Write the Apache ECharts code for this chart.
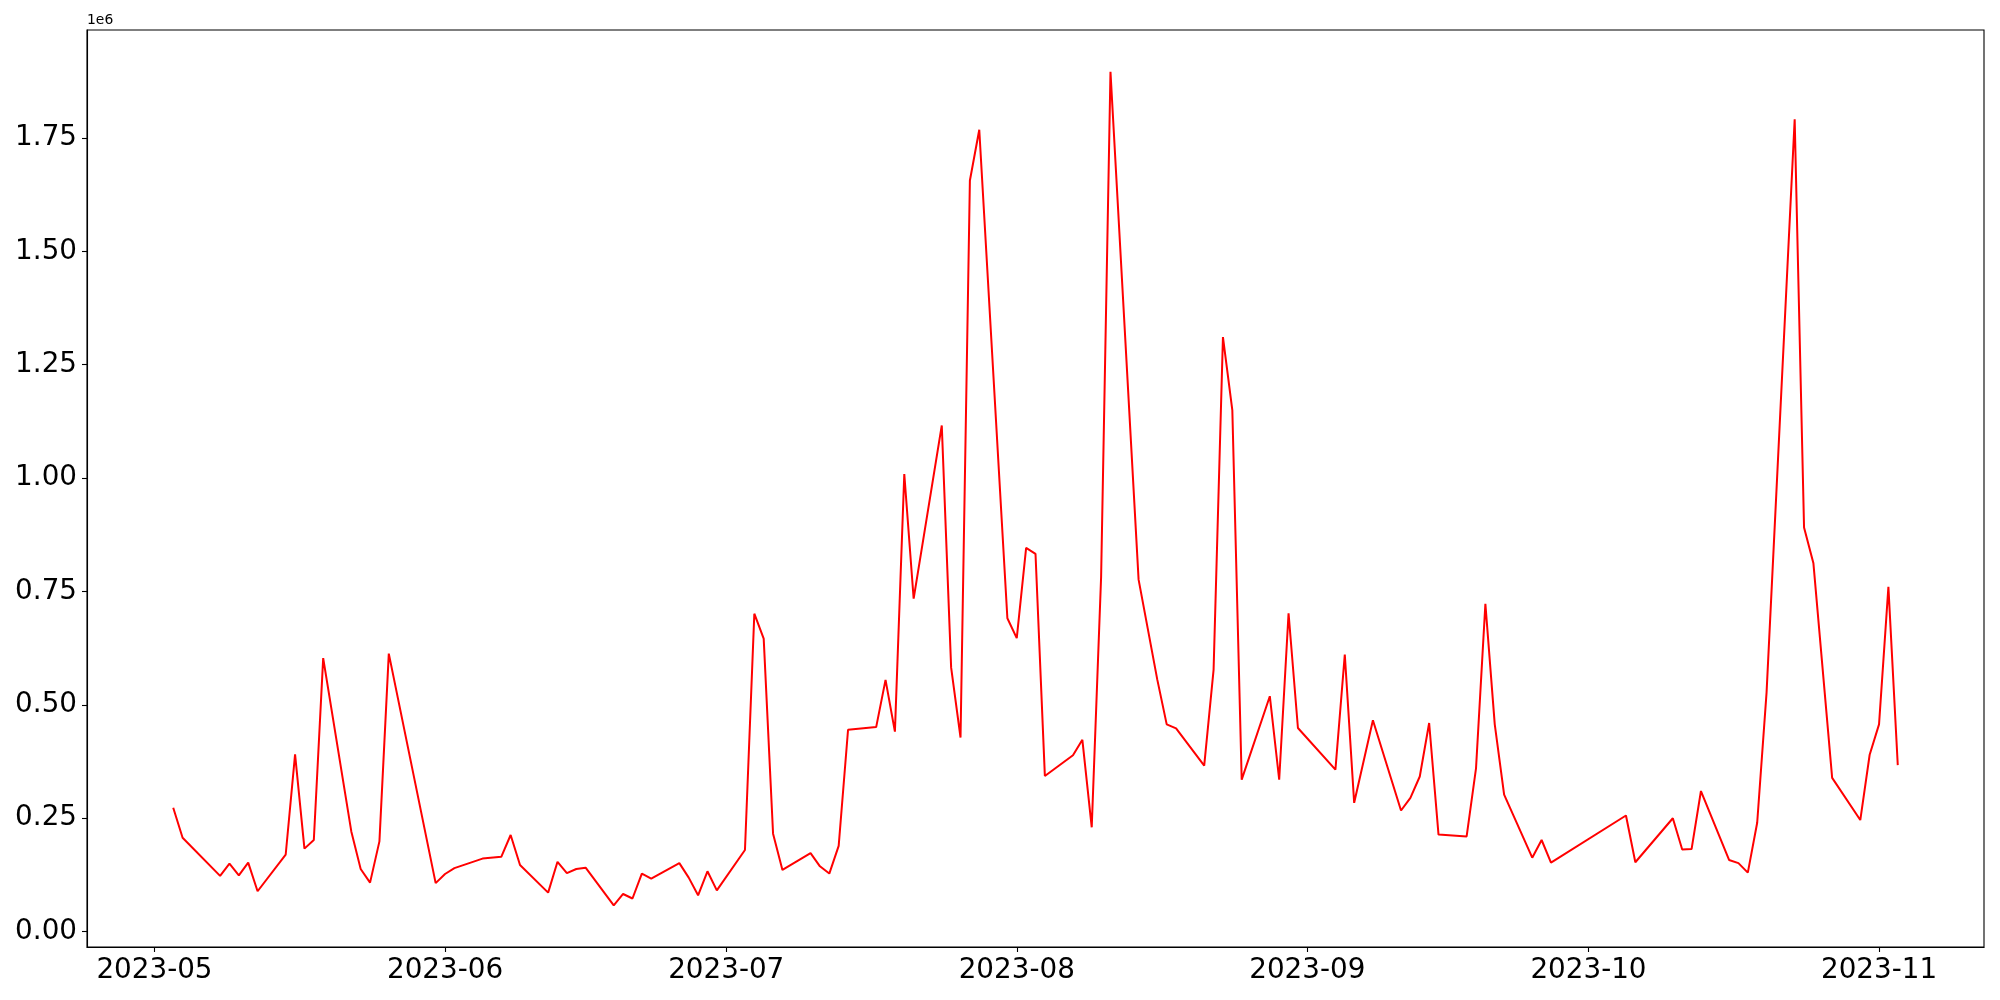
<!DOCTYPE html>
<html><head><meta charset="utf-8">
<script src="https://cdn.jsdelivr.net/npm/echarts@6/dist/echarts.min.js"></script>
<style>html,body{margin:0;padding:0;background:#fff}#c{width:2000px;height:1000px}</style>
</head><body><div id="c"></div>
<script>
const dates = [
 '2023-05-03','2023-05-04','2023-05-08','2023-05-09','2023-05-10','2023-05-11','2023-05-12',
 '2023-05-15','2023-05-16','2023-05-17','2023-05-18','2023-05-19',
 '2023-05-22','2023-05-23','2023-05-24','2023-05-25','2023-05-26',
 '2023-05-31','2023-06-01','2023-06-02',
 '2023-06-05','2023-06-07','2023-06-08','2023-06-09',
 '2023-06-12','2023-06-13','2023-06-14','2023-06-15','2023-06-16',
 '2023-06-19','2023-06-20','2023-06-21','2023-06-22','2023-06-23',
 '2023-06-26','2023-06-27','2023-06-28','2023-06-29','2023-06-30',
 '2023-07-03','2023-07-04','2023-07-05','2023-07-06','2023-07-07',
 '2023-07-10','2023-07-11','2023-07-12','2023-07-13','2023-07-14',
 '2023-07-17','2023-07-18','2023-07-19','2023-07-20','2023-07-21',
 '2023-07-24','2023-07-25','2023-07-26','2023-07-27','2023-07-28',
 '2023-07-31','2023-08-01','2023-08-02','2023-08-03','2023-08-04',
 '2023-08-07','2023-08-08','2023-08-09','2023-08-10','2023-08-11',
 '2023-08-14','2023-08-16','2023-08-17','2023-08-18',
 '2023-08-21','2023-08-22','2023-08-23','2023-08-24','2023-08-25',
 '2023-08-28','2023-08-29','2023-08-30','2023-08-31',
 '2023-09-04','2023-09-05','2023-09-06','2023-09-08',
 '2023-09-11','2023-09-12','2023-09-13','2023-09-14','2023-09-15',
 '2023-09-18','2023-09-19','2023-09-20','2023-09-21','2023-09-22',
 '2023-09-25','2023-09-26','2023-09-27',
 '2023-10-05','2023-10-06',
 '2023-10-10','2023-10-11','2023-10-12','2023-10-13',
 '2023-10-16','2023-10-17','2023-10-18','2023-10-19','2023-10-20',
 '2023-10-23','2023-10-24','2023-10-25','2023-10-27',
 '2023-10-30','2023-10-31','2023-11-01','2023-11-02','2023-11-03'
];
const values = [
 273000,207000,123000,150000,124000,152000,89000,
 170000,391000,183000,202000,603000,
 221000,138000,108000,199000,613000,
 107000,127000,140000,
 161000,165000,213000,147000,
 86000,154000,129000,138000,141000,
 58000,83000,73000,128000,117000,
 151000,119000,80000,133000,91000,
 180000,701000,646000,216000,136000,
 173000,144000,128000,189000,445000,
 451000,555000,441000,1009000,734000,
 1116000,582000,428000,1656000,1768000,
 691000,647000,846000,833000,343000,
 389000,423000,230000,782000,1896000,
 776000,555000,457000,448000,
 366000,577000,1311000,1150000,335000,
 519000,335000,702000,449000,
 357000,611000,284000,466000,
 267000,295000,342000,460000,214000,
 210000,360000,723000,457000,302000,
 163000,202000,152000,
 256000,153000,
 250000,181000,182000,310000,
 158000,151000,130000,240000,527000,
 1791000,891000,812000,339000,
 246000,390000,457000,760000,367000
];
const yTicks = [0,250000,500000,750000,1000000,1250000,1500000,1750000];
const xTicks = ['2023-05-01','2023-06-01','2023-07-01','2023-08-01','2023-09-01','2023-10-01','2023-11-01'];

function toTs(s){const p=s.split('-').map(Number);return Date.UTC(p[0],p[1]-1,p[2]);}
const ts = dates.map(toTs);
const t0 = ts[0], t1 = ts[ts.length-1];
const xpad = (t1-t0)*0.05;
const vmin = Math.min(...values), vmax = Math.max(...values);
const ypad = (vmax-vmin)*0.05;
const FONT = 'DejaVu Sans';
const xTickTs = xTicks.map(toTs);

const chart = echarts.init(document.getElementById('c'), null, {renderer:'canvas', width:2000, height:1000});
chart.setOption({
  animation:false,
  backgroundColor:'#fff',
  grid:{left:87, right:16, top:30, bottom:53, show:true, borderColor:'#000', borderWidth:1.1, backgroundColor:'transparent'},
  xAxis:{
    type:'value', min:t0-xpad, max:t1+xpad,
    axisLine:{show:true, onZero:false, lineStyle:{color:'#000', width:1.1}},
    axisTick:{show:true, length:5, lineStyle:{color:'#000', width:1.1}, customValues:xTickTs},
    axisLabel:{show:true, margin:10, color:'#000', fontFamily:FONT, fontSize:27.8,
      customValues:xTickTs,
      formatter:function(v){const d=new Date(v);return d.getUTCFullYear()+'-'+String(d.getUTCMonth()+1).padStart(2,'0');}},
    splitLine:{show:false}
  },
  yAxis:{
    type:'value', min:vmin-ypad, max:vmax+ypad,
    axisLine:{show:true, onZero:false, lineStyle:{color:'#000', width:1.1}},
    axisTick:{show:true, length:5, lineStyle:{color:'#000', width:1.1}, customValues:yTicks},
    axisLabel:{show:true, margin:10, color:'#000', fontFamily:FONT, fontSize:27.8,
      customValues:yTicks,
      formatter:function(v){return (v/1e6).toFixed(2);}},
    splitLine:{show:false}
  },
  graphic:[{type:'text', left:87, top:13, style:{text:'1e6', font:'13.9px "DejaVu Sans"', fill:'#000'}}],
  series:[{
    type:'line', data:ts.map((t,i)=>[t,values[i]]), showSymbol:false, symbol:'none',
    lineStyle:{color:'#ff0000', width:2}, itemStyle:{color:'#ff0000'}
  }]
});
</script></body></html>
